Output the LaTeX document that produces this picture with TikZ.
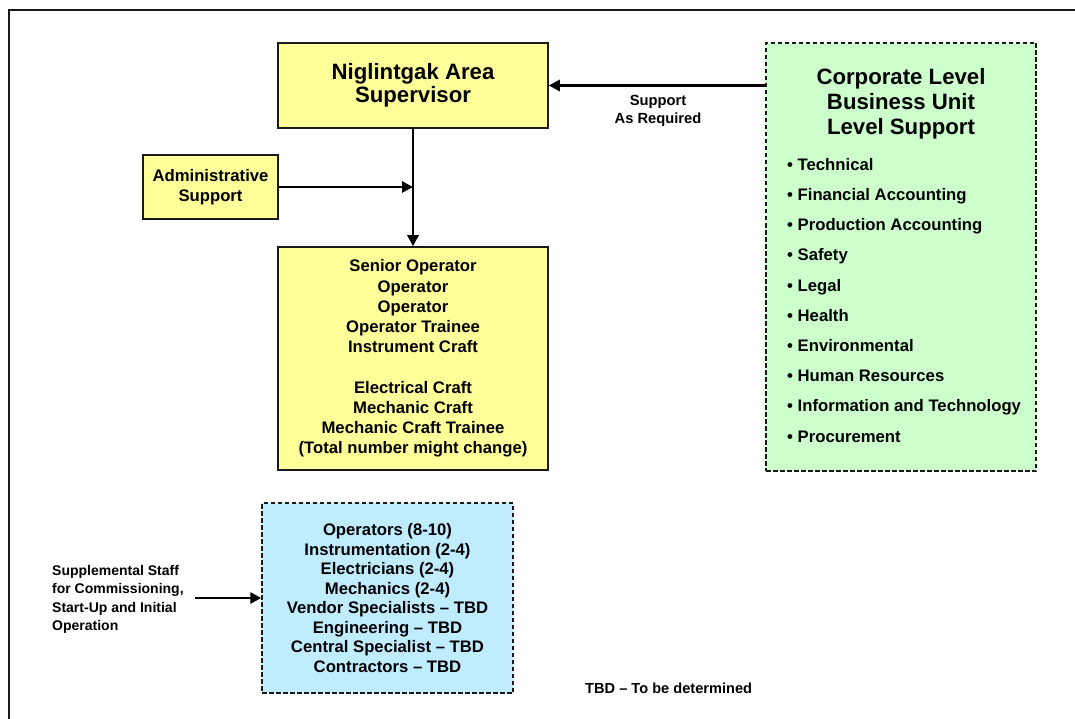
\documentclass[tikz,border=0pt]{standalone}
\usepackage{fontspec}
\setmainfont{Liberation Sans}
\usetikzlibrary{arrows.meta}
\definecolor{yel}{RGB}{255,255,153}
\definecolor{grn}{RGB}{204,255,204}
\definecolor{blu}{RGB}{192,236,255}
\definecolor{edge}{RGB}{25,25,25}
\tikzset{
  ybox/.style={draw=edge, line width=1.5pt, fill=yel, inner sep=0pt, align=center},
  dbox/.style={draw=edge, line width=1.5pt, dash pattern=on 4.5pt off 2.5pt, inner sep=0pt, align=center},
  big/.style={font=\bfseries\fontsize{22.2}{23}\selectfont},
  mid/.style={font=\bfseries\fontsize{16.7}{20.2}\selectfont},
  sml/.style={font=\bfseries\fontsize{14.7}{18}\selectfont},
  arr/.style={line width=2.8pt, -{Triangle[length=11pt,width=11pt]}},
}
\begin{document}
\begin{tikzpicture}[x=1pt,y=-1pt]
\useasboundingbox (0,0) rectangle (1075,719);
\draw[line width=2pt, draw=edge] (9,719) -- (9,10) -- (1076,10);

\node[ybox, big, minimum width=270pt, minimum height=85pt] (sup) at (413,85.5) {Niglintgak Area\\Supervisor};
\node[ybox, mid, minimum width=135pt, minimum height=64pt] (adm) at (210.5,187) {Administrative\\Support};
\node[ybox, mid, minimum width=270pt, minimum height=223pt] (staff) at (413,358.5) {Senior Operator\\Operator\\Operator\\Operator Trainee\\Instrument Craft\\[20.2pt]Electrical Craft\\Mechanic Craft\\Mechanic Craft Trainee\\(Total number might change)};
\node[dbox, fill=blu, font=\bfseries\fontsize{16.7}{19.5}\selectfont, minimum width=251pt, minimum height=190pt] (blue) at (387.5,598) {Operators (8-10)\\Instrumentation (2-4)\\Electricians (2-4)\\Mechanics (2-4)\\Vendor Specialists – TBD\\Engineering – TBD\\Central Specialist – TBD\\Contractors – TBD};
\node[dbox, fill=grn, minimum width=270pt, minimum height=428pt] (green) at (901,257) {};
\node[font=\bfseries\fontsize{22.2}{25}\selectfont, align=center, inner sep=0pt] (ghead) at (901,104) {Corporate Level\\Business Unit\\Level Support};
\node[font=\bfseries\fontsize{16.7}{30.2}\selectfont, align=left, inner sep=0pt, anchor=north west] (glist) at (787,158) {• Technical\\• Financial Accounting\\• Production Accounting\\• Safety\\• Legal\\• Health\\• Environmental\\• Human Resources\\• Information and Technology\\• Procurement};

\node[sml, align=center, inner sep=0pt] (req) at (658,111) {Support\\As Required};
\node[font=\bfseries\fontsize{14}{18.3}\selectfont, align=left, inner sep=0pt, anchor=west] (supp) at (52,599.5) {Supplemental Staff\\for Commissioning,\\Start-Up and Initial\\Operation};
\node[font=\bfseries\fontsize{14.6}{16}\selectfont, inner sep=0pt, anchor=west] (tbd) at (585,688) {TBD – To be determined};

\coordinate (sa) at (195,598);
\draw[arr] (sup.east -| green.west) -- (sup.east);
\draw[arr] (sup.south) -- (staff.north);
\draw[arr] (adm.east) -- (adm.east -| sup.south);
\draw[arr] (sa) -- (sa -| blue.west);
\end{tikzpicture}
\end{document}
